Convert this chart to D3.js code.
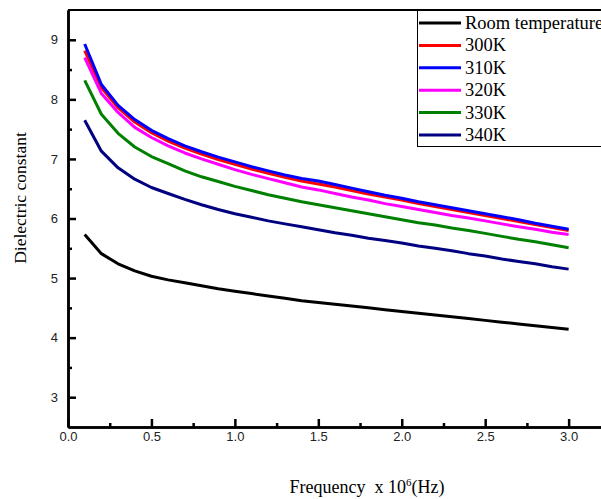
<!DOCTYPE html>
<html>
<head>
<meta charset="utf-8">
<script src="https://cdn.jsdelivr.net/npm/d3@7"></script>
<style>
  body { margin: 0; background: #fff; }
  svg { display: block; }
</style>
</head>
<body>
<script>
// frequency in MHz
var freq = [0.1,0.2,0.3,0.4,0.5,0.6,0.7,0.8,0.9,1.0,1.1,1.2,1.3,1.4,1.5,1.6,1.7,1.8,1.9,2.0,2.1,2.2,2.3,2.4,2.5,2.6,2.7,2.8,2.9,3.0];

var roomTemp = [5.73,5.41,5.24,5.12,5.03,4.97,4.92,4.87,4.82,4.78,4.74,4.70,4.66,4.62,4.59,4.56,4.53,4.50,4.47,4.44,4.41,4.38,4.35,4.32,4.29,4.26,4.23,4.20,4.17,4.14];
var k300 = [8.82,8.20,7.86,7.62,7.44,7.30,7.18,7.08,6.99,6.91,6.83,6.76,6.69,6.63,6.58,6.53,6.47,6.41,6.36,6.31,6.25,6.20,6.15,6.10,6.05,6.00,5.95,5.90,5.85,5.80];
var k310 = [8.93,8.25,7.90,7.66,7.48,7.34,7.22,7.12,7.03,6.95,6.87,6.80,6.73,6.67,6.63,6.57,6.51,6.45,6.39,6.34,6.28,6.23,6.18,6.13,6.08,6.03,5.98,5.92,5.87,5.82];
var k320 = [8.70,8.10,7.78,7.53,7.36,7.22,7.10,7.00,6.91,6.82,6.74,6.67,6.60,6.53,6.48,6.42,6.36,6.31,6.25,6.20,6.15,6.10,6.05,6.01,5.96,5.91,5.86,5.82,5.77,5.73];
var k330 = [8.32,7.75,7.43,7.20,7.04,6.92,6.80,6.70,6.62,6.54,6.47,6.40,6.34,6.28,6.23,6.18,6.13,6.08,6.03,5.98,5.93,5.89,5.84,5.80,5.75,5.70,5.65,5.61,5.56,5.51];
var k340 = [7.65,7.13,6.85,6.66,6.52,6.42,6.32,6.23,6.15,6.08,6.02,5.96,5.91,5.86,5.81,5.76,5.72,5.67,5.63,5.59,5.54,5.50,5.46,5.41,5.37,5.32,5.28,5.24,5.19,5.15];

var seriesNames = ["Room temperature","300K","310K","320K","330K","340K"];
var seriesValues = [roomTemp, k300, k310, k320, k330, k340];
var colors = ["#000000","#ff0000","#0000ff","#ff00ff","#008000","#000080"];

var xTicks = [0,0.5,1.0,1.5,2.0,2.5,3.0];
var xMinor = [0.25,0.75,1.25,1.75,2.25,2.75];
var yTicks = [3,4,5,6,7,8,9];
var yMinor = [3.5,4.5,5.5,6.5,7.5,8.5];

var width = 601, height = 499;

var svg = d3.select("body").append("svg")
    .attr("width", width)
    .attr("height", height);

var x = d3.scaleLinear().domain([0, 3.2]).range([68, 602]);
var y = d3.scaleLinear().domain([2.5, 9.5]).range([427, 10]);

// curves
var line = d3.line()
    .x(function(d) { return x(d[0]); })
    .y(function(d) { return y(d[1]); });

for (var i = 0; i < seriesValues.length; i++) {
  var pts = freq.map(function(f, j) { return [f, seriesValues[i][j]]; });
  svg.append("path")
    .datum(pts)
    .attr("fill", "none")
    .attr("stroke", colors[i])
    .attr("stroke-width", 3)
    .attr("stroke-linejoin", "round")
    .attr("d", line);
}

// top frame line
svg.append("line")
    .attr("x1", 68).attr("x2", 601)
    .attr("y1", 10).attr("y2", 10)
    .attr("stroke", "black").attr("stroke-width", 2);

// axes
svg.append("g")
    .attr("transform", "translate(0,427)")
    .call(d3.axisBottom(x).tickValues(xTicks).tickSizeInner(-8).tickSizeOuter(0).tickPadding(5)
      .tickFormat(d3.format(".1f")));
svg.append("g")
    .attr("transform", "translate(0,427)")
    .call(d3.axisBottom(x).tickValues(xMinor).tickSizeInner(-4).tickSizeOuter(0).tickFormat(""));

svg.append("g")
    .attr("transform", "translate(68,0)")
    .call(d3.axisLeft(y).tickValues(yTicks).tickSizeInner(-8).tickSizeOuter(0).tickPadding(10)
      .tickFormat(d3.format("d")));
svg.append("g")
    .attr("transform", "translate(68,0)")
    .call(d3.axisLeft(y).tickValues(yMinor).tickSizeInner(-4).tickSizeOuter(0).tickFormat(""));

svg.selectAll(".domain").attr("stroke", "black").attr("stroke-width", 2.5);
svg.selectAll(".tick line").attr("stroke", "black").attr("stroke-width", 2.5);
svg.selectAll(".tick text")
    .attr("font-family", "Liberation Sans, Arial, sans-serif")
    .attr("font-size", 13)
    .attr("fill", "#222");

// axis titles
svg.append("text")
    .attr("transform", "translate(26,198) rotate(-90)")
    .attr("text-anchor", "middle")
    .attr("font-family", "Liberation Serif, Times New Roman, serif")
    .attr("font-size", 17.5)
    .text("Dielectric constant");

var xt = svg.append("text")
    .attr("x", 367).attr("y", 493)
    .attr("text-anchor", "middle")
    .attr("font-family", "Liberation Serif, Times New Roman, serif")
    .attr("font-size", 18)
    .attr("xml:space", "preserve");
xt.append("tspan").text("Frequency  x 10");
xt.append("tspan").attr("dy", -7).attr("font-size", 11).text("6");
xt.append("tspan").attr("dy", 7).text("(Hz)");

// legend
var legend = svg.append("g");
legend.append("rect")
    .attr("x", 417.5).attr("y", 10.5)
    .attr("width", 200).attr("height", 136)
    .attr("fill", "white")
    .attr("stroke", "black").attr("stroke-width", 1);

seriesNames.forEach(function(name, i) {
  var ly = 23 + i * 22.4;
  legend.append("line")
      .attr("x1", 419).attr("x2", 461)
      .attr("y1", ly).attr("y2", ly)
      .attr("stroke", colors[i]).attr("stroke-width", 3);
  legend.append("text")
      .attr("x", 465).attr("y", ly + 6)
      .attr("font-family", "Liberation Serif, Times New Roman, serif")
      .attr("font-size", 18.5)
      .text(name);
});
</script>
</body>
</html>
